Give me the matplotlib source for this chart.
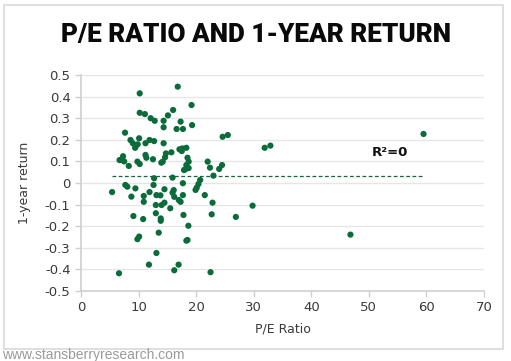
import matplotlib
matplotlib.use("Agg")
import matplotlib.pyplot as plt
from matplotlib import font_manager
from matplotlib.patches import Rectangle
from matplotlib.ticker import FuncFormatter

# P/E ratio and 1-year return
pe = [16.8, 10.2, 10.2, 11.1, 19.2, 16.0, 15.1, 12.1, 12.8, 14.35,
      17.3, 19.3, 14.35, 16.6, 17.7, 7.65, 10.1, 8.6, 9.0, 9.55,
      9.85, 11.2, 11.9, 12.7, 9.4, 14.35, 17.1, 17.6, 18.3, 17.5,
      7.3, 7.1, 6.7, 7.5, 9.8, 10.2, 8.3, 11.2, 11.35, 12.5,
      14.75, 15.7, 14.6, 14.2, 13.95, 18.5, 18.7, 18.3, 18.4, 18.1,
      17.9, 18.7, 22.0, 22.4, 24.6, 25.5, 24.5, 24.0, 23.0, 31.9,
      32.9, 59.5,
      12.7, 15.9, 20.7, 20.4, 20.1, 19.9, 17.7, 5.4, 7.7, 8.05,
      9.45, 8.75, 12.6, 11.9, 10.9, 13.1, 13.8, 14.5, 15.9, 16.1,
      16.2, 17.0, 17.3, 17.7, 21.5, 10.9, 13.0, 14.0, 14.5, 15.5,
      22.85, 22.7, 9.1, 10.8, 13.0, 13.85, 13.85, 17.8, 18.65, 26.9,
      29.8, 10.1, 9.8, 13.5, 18.5, 18.3, 13.1, 11.8, 16.95, 16.2,
      6.6, 22.5, 46.8]
ret = [0.446, 0.415, 0.325, 0.319, 0.361, 0.338, 0.313, 0.300, 0.288, 0.288,
       0.284, 0.268, 0.258, 0.250, 0.250, 0.233, 0.207, 0.199, 0.184, 0.173,
       0.179, 0.184, 0.199, 0.194, 0.163, 0.184, 0.156, 0.160, 0.163, 0.148,
       0.124, 0.106, 0.106, 0.100, 0.099, 0.088, 0.079, 0.130, 0.117, 0.110,
       0.137, 0.142, 0.119, 0.099, 0.094, 0.117, 0.099, 0.083, 0.073, 0.063,
       0.060, 0.069, 0.099, 0.071, 0.214, 0.222, 0.083, 0.065, 0.034, 0.163,
       0.173, 0.227,
       0.022, 0.025, 0.014, -0.005, -0.022, -0.032, -0.001, -0.042, -0.009, -0.017,
       -0.025, -0.063, -0.009, -0.042, -0.060, -0.056, -0.057, -0.029, -0.045, -0.033,
       -0.064, -0.079, -0.087, -0.056, -0.056, -0.087, -0.102, -0.102, -0.091, -0.117,
       -0.091, -0.145, -0.153, -0.167, -0.140, -0.164, -0.175, -0.148, -0.198, -0.157,
       -0.105, -0.248, -0.260, -0.230, -0.264, -0.267, -0.324, -0.378, -0.378, -0.404,
       -0.418, -0.413, -0.239]

trend_y = 0.034
x_ticks = [0, 10, 20, 30, 40, 50, 60, 70]
y_ticks = [0.5, 0.4, 0.3, 0.2, 0.1, 0, -0.1, -0.2, -0.3, -0.4, -0.5]

green = "#0b6b3a"
grid_c = "#e6e6e6"
axis_c = "#d0d0d0"
text_c = "#3a3a3a"

plt.rcParams['font.family'] = ['DejaVu Sans']

# heaviest installed Roboto face for the title
robotos = [f for f in font_manager.fontManager.ttflist
           if f.name == "Roboto" and f.style == "normal"]
if robotos:
    heavy = max(robotos, key=lambda f: int(f.weight) if str(f.weight).isdigit() else 400)
    title_font = font_manager.FontProperties(fname=heavy.fname, size=18.8)
else:
    title_font = font_manager.FontProperties(family="DejaVu Sans", weight="bold", size=17)

fig = plt.figure(figsize=(5.11, 3.61), dpi=100)
fig.patch.set_facecolor("white")

# outer frame
fig.add_artist(Rectangle((4 / 511, 1 - 349 / 361), 499 / 511, 344 / 361,
                         transform=fig.transFigure, fill=False,
                         edgecolor="#d9d9d9", linewidth=1.2))

ax = fig.add_axes([81 / 511, 1 - 291 / 361, 403 / 511, 216 / 361])
ax.scatter(pe, ret, s=20, color=green, edgecolors="none", zorder=3)
ax.plot([min(pe), max(pe)], [trend_y, trend_y], linestyle=(0, (3, 2)),
        color=green, linewidth=0.9, zorder=2)
ax.text(53.7, 0.14, "R²=0", fontsize=9.5, fontweight="bold", color="#111111",
        ha="center", va="center")

ax.set_xlim(0, 70)
ax.set_ylim(-0.5, 0.5)
ax.set_xticks(x_ticks)
ax.set_yticks(y_ticks)
ax.yaxis.set_major_formatter(FuncFormatter(lambda v, p: "0" if abs(v) < 1e-9 else f"{v:.1f}"))
ax.grid(axis="y", color=grid_c, linewidth=1)
ax.set_axisbelow(True)
for s in ["top", "right"]:
    ax.spines[s].set_visible(False)
for s in ["left", "bottom"]:
    ax.spines[s].set_color(axis_c)
    ax.spines[s].set_linewidth(1.2)
ax.tick_params(colors=axis_c, labelcolor=text_c, labelsize=9.5, length=4, width=1)
ax.set_xlabel("P/E Ratio", fontsize=9, color=text_c, labelpad=6)
ax.set_ylabel("1-year return", fontsize=9, color=text_c, labelpad=10)

fig.text(0.5, 1 - 35 / 361, "P/E RATIO AND 1-YEAR RETURN", ha="center", va="center",
         fontproperties=title_font, color="#0a0a0a")
fig.text(2 / 511, 1 - 355 / 361, "www.stansberryresearch.com", ha="left", va="center",
         fontsize=10, color="#9a9a9a", family="Liberation Sans")

fig.savefig("out.png", dpi=100)
